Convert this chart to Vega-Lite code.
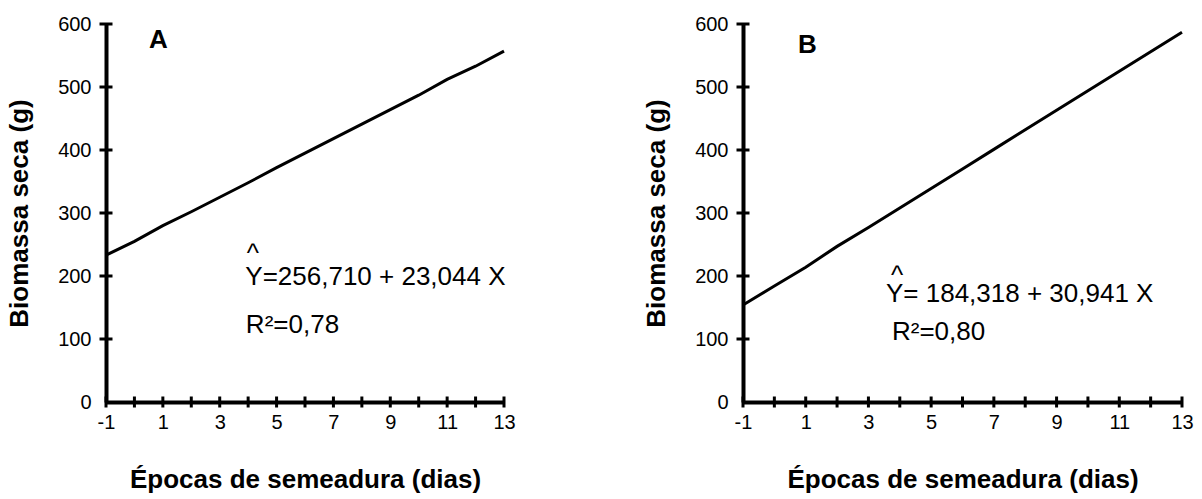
{
  "$schema": "https://vega.github.io/schema/vega-lite/v6.json",
  "background": "white",
  "padding": {"left": 6, "top": 14, "right": 5, "bottom": 5},
  "spacing": 127,
  "datasets": {
    "lineA": [
      {"x": -1, "y": 233}, {"x": 0, "y": 255}, {"x": 1, "y": 280}, {"x": 2, "y": 302},
      {"x": 3, "y": 325}, {"x": 4, "y": 348}, {"x": 5, "y": 372}, {"x": 6, "y": 395},
      {"x": 7, "y": 418}, {"x": 8, "y": 441}, {"x": 9, "y": 464}, {"x": 10, "y": 487},
      {"x": 11, "y": 512}, {"x": 12, "y": 533}, {"x": 13, "y": 557}
    ],
    "lineB": [
      {"x": -1, "y": 154}, {"x": 0, "y": 184}, {"x": 1, "y": 214}, {"x": 2, "y": 247},
      {"x": 3, "y": 277}, {"x": 4, "y": 308}, {"x": 5, "y": 339}, {"x": 6, "y": 370},
      {"x": 7, "y": 401}, {"x": 8, "y": 432}, {"x": 9, "y": 463}, {"x": 10, "y": 494},
      {"x": 11, "y": 525}, {"x": 12, "y": 556}, {"x": 13, "y": 587}
    ],
    "xticks": [
      {"x": -1, "y": 0}, {"x": 0, "y": 0}, {"x": 1, "y": 0}, {"x": 2, "y": 0}, {"x": 3, "y": 0},
      {"x": 4, "y": 0}, {"x": 5, "y": 0}, {"x": 6, "y": 0}, {"x": 7, "y": 0}, {"x": 8, "y": 0},
      {"x": 9, "y": 0}, {"x": 10, "y": 0}, {"x": 11, "y": 0}, {"x": 12, "y": 0}, {"x": 13, "y": 0}
    ],
    "yticks": [
      {"x": -1, "y": 100}, {"x": -1, "y": 200}, {"x": -1, "y": 300},
      {"x": -1, "y": 400}, {"x": -1, "y": 500}, {"x": -1, "y": 600}
    ],
    "textA": [
      {"x": 0.51, "y": 562, "t": "A", "kind": "panel"},
      {"x": 3.95, "y": 223, "t": "^", "kind": "eq"},
      {"x": 3.9, "y": 186, "t": "Y=256,710 + 23,044 X", "kind": "eq"},
      {"x": 3.92, "y": 109, "t": "R²=0,78", "kind": "eq"}
    ],
    "textB": [
      {"x": 0.75, "y": 554, "t": "B", "kind": "panel"},
      {"x": 3.72, "y": 188, "t": "^", "kind": "eq"},
      {"x": 3.56, "y": 159, "t": "Y= 184,318 + 30,941 X", "kind": "eq"},
      {"x": 3.75, "y": 98, "t": "R²=0,80", "kind": "eq"}
    ]
  },
  "hconcat": [
    {
      "width": 398,
      "height": 378,
      "encoding": {
        "x": {"field": "x", "type": "quantitative", "scale": {"domain": [-1, 13], "nice": false, "zero": false},
              "axis": {"values": [-1, 1, 3, 5, 7, 9, 11, 13], "labelExpr": "'' + datum.value", "title": "Épocas de semeadura (dias)"}},
        "y": {"field": "y", "type": "quantitative", "scale": {"domain": [0, 600], "nice": false},
              "axis": {"values": [0, 100, 200, 300, 400, 500, 600], "title": "Biomassa seca (g)"}}
      },
      "layer": [
        {"data": {"name": "lineA"}, "mark": {"type": "line", "color": "black", "strokeWidth": 3}},
        {"data": {"name": "xticks"}, "mark": {"type": "tick", "orient": "vertical", "color": "black", "size": 11, "thickness": 3, "opacity": 1}},
        {"data": {"name": "yticks"}, "mark": {"type": "tick", "orient": "horizontal", "color": "black", "size": 13, "thickness": 3, "opacity": 1}},
        {"data": {"name": "textA"}, "transform": [{"filter": "datum.kind == 'eq'"}],
         "mark": {"type": "text", "align": "left", "baseline": "alphabetic", "font": "Liberation Sans", "fontSize": 26, "color": "black"},
         "encoding": {"text": {"field": "t"}}},
        {"data": {"name": "textA"}, "transform": [{"filter": "datum.kind == 'panel'"}],
         "mark": {"type": "text", "align": "left", "baseline": "alphabetic", "font": "Liberation Sans", "fontWeight": "bold", "fontSize": 26, "color": "black"},
         "encoding": {"text": {"field": "t"}}}
      ]
    },
    {
      "width": 439,
      "height": 378,
      "encoding": {
        "x": {"field": "x", "type": "quantitative", "scale": {"domain": [-1, 13], "nice": false, "zero": false},
              "axis": {"values": [-1, 1, 3, 5, 7, 9, 11, 13], "labelExpr": "'' + datum.value", "title": "Épocas de semeadura (dias)"}},
        "y": {"field": "y", "type": "quantitative", "scale": {"domain": [0, 600], "nice": false},
              "axis": {"values": [0, 100, 200, 300, 400, 500, 600], "title": "Biomassa seca (g)"}}
      },
      "layer": [
        {"data": {"name": "lineB"}, "mark": {"type": "line", "color": "black", "strokeWidth": 3}},
        {"data": {"name": "xticks"}, "mark": {"type": "tick", "orient": "vertical", "color": "black", "size": 11, "thickness": 3, "opacity": 1}},
        {"data": {"name": "yticks"}, "mark": {"type": "tick", "orient": "horizontal", "color": "black", "size": 13, "thickness": 3, "opacity": 1}},
        {"data": {"name": "textB"}, "transform": [{"filter": "datum.kind == 'eq'"}],
         "mark": {"type": "text", "align": "left", "baseline": "alphabetic", "font": "Liberation Sans", "fontSize": 26, "color": "black"},
         "encoding": {"text": {"field": "t"}}},
        {"data": {"name": "textB"}, "transform": [{"filter": "datum.kind == 'panel'"}],
         "mark": {"type": "text", "align": "left", "baseline": "alphabetic", "font": "Liberation Sans", "fontWeight": "bold", "fontSize": 26, "color": "black"},
         "encoding": {"text": {"field": "t"}}}
      ]
    }
  ],
  "config": {
    "view": {"stroke": null},
    "axis": {
      "domainColor": "black",
      "domainWidth": 4,
      "ticks": false,
      "tickSize": 0,
      "grid": false,
      "labelFont": "Liberation Sans",
      "labelFontSize": 20,
      "labelColor": "black",
      "titleFont": "Liberation Sans",
      "titleFontSize": 26,
      "titleFontWeight": "bold",
      "titleColor": "black"
    },
    "axisX": {"labelPadding": 10, "titlePadding": 34, "labelFlush": false},
    "axisY": {"labelPadding": 15, "titlePadding": 25, "labelFlush": false}
  }
}
